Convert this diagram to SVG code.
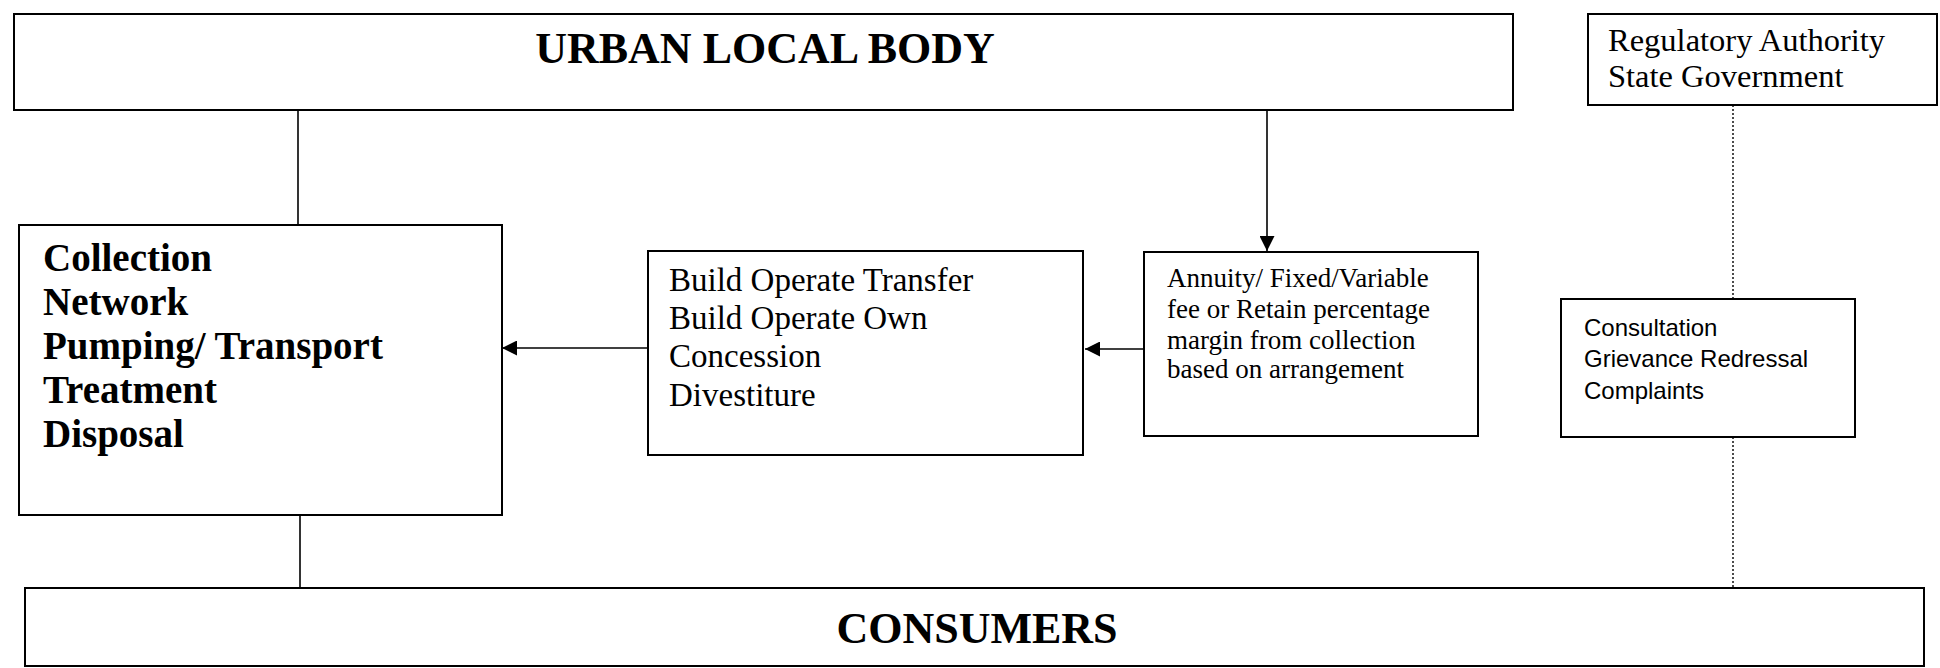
<svg xmlns="http://www.w3.org/2000/svg" width="1940" height="668" viewBox="0 0 1940 668">
  <style>
    .box { fill: #ffffff; stroke: #000000; stroke-width: 2; }
    .link { fill: none; stroke: #000000; stroke-width: 1.6; }
    .dot { fill: none; stroke: #000000; stroke-width: 1.4; stroke-dasharray: 2 2; }
    .serif { font-family: "Liberation Serif", "Times New Roman", serif; fill: #000000; }
    .sans { font-family: "Liberation Sans", Arial, sans-serif; fill: #000000; }
    .title { font-size: 44px; font-weight: bold; }
    .bold { font-size: 39px; font-weight: bold; }
    .mid { font-size: 33px; }
    .small { font-size: 27px; }
    .reg { font-size: 32.5px; }
    .note { font-size: 24px; }
  </style>
  <defs>
    <marker id="arrowL" viewBox="0 0 10 10" refX="10" refY="5" markerWidth="15" markerHeight="15" markerUnits="userSpaceOnUse" orient="auto">
      <path d="M0,0 L10,5 L0,10 z" fill="#000000"/>
    </marker>
  </defs>

  <!-- connectors -->
  <g id="connectors">
    <line class="link" x1="298" y1="110" x2="298" y2="225"/>
    <line class="link" x1="300" y1="515" x2="300" y2="594"/>
    <line class="link" x1="1267" y1="110" x2="1267" y2="251" marker-end="url(#arrowL)"/>
    <line class="link" x1="648" y1="348" x2="502" y2="348" marker-end="url(#arrowL)"/>
    <line class="link" x1="1144" y1="349" x2="1085" y2="349" marker-end="url(#arrowL)"/>
    <line class="dot" x1="1733" y1="105" x2="1733" y2="299"/>
    <line class="dot" x1="1733" y1="437" x2="1733" y2="588"/>
  </g>

  <g id="urban-local-body">
    <rect class="box" x="14" y="14" width="1499" height="96"/>
    <text class="serif title" x="765" y="63" text-anchor="middle">URBAN LOCAL BODY</text>
  </g>

  <g id="regulatory">
    <rect class="box" x="1588" y="14" width="349" height="91"/>
    <text class="serif reg" x="1608" y="51">Regulatory Authority</text>
    <text class="serif reg" x="1608" y="87">State Government</text>
  </g>

  <g id="services">
    <rect class="box" x="19" y="225" width="483" height="290"/>
    <text class="serif bold" x="43" y="271">Collection</text>
    <text class="serif bold" x="43" y="315">Network</text>
    <text class="serif bold" x="43" y="359">Pumping/ Transport</text>
    <text class="serif bold" x="43" y="403">Treatment</text>
    <text class="serif bold" x="43" y="447">Disposal</text>
  </g>

  <g id="contract-models">
    <rect class="box" x="648" y="251" width="435" height="204"/>
    <text class="serif mid" x="669" y="291">Build Operate Transfer</text>
    <text class="serif mid" x="669" y="329">Build Operate Own</text>
    <text class="serif mid" x="669" y="367">Concession</text>
    <text class="serif mid" x="669" y="406">Divestiture</text>
  </g>

  <g id="payment">
    <rect class="box" x="1144" y="252" width="334" height="184"/>
    <text class="serif small" x="1167" y="287">Annuity/ Fixed/Variable</text>
    <text class="serif small" x="1167" y="318">fee or Retain percentage</text>
    <text class="serif small" x="1167" y="349">margin from collection</text>
    <text class="serif small" x="1167" y="378">based on arrangement</text>
  </g>

  <g id="consultation">
    <rect class="box" x="1561" y="299" width="294" height="138"/>
    <text class="sans note" x="1584" y="336">Consultation</text>
    <text class="sans note" x="1584" y="367">Grievance Redressal</text>
    <text class="sans note" x="1584" y="399">Complaints</text>
  </g>

  <g id="consumers">
    <rect class="box" x="25" y="588" width="1899" height="78"/>
    <text class="serif title" x="977" y="643" text-anchor="middle">CONSUMERS</text>
  </g>
</svg>
